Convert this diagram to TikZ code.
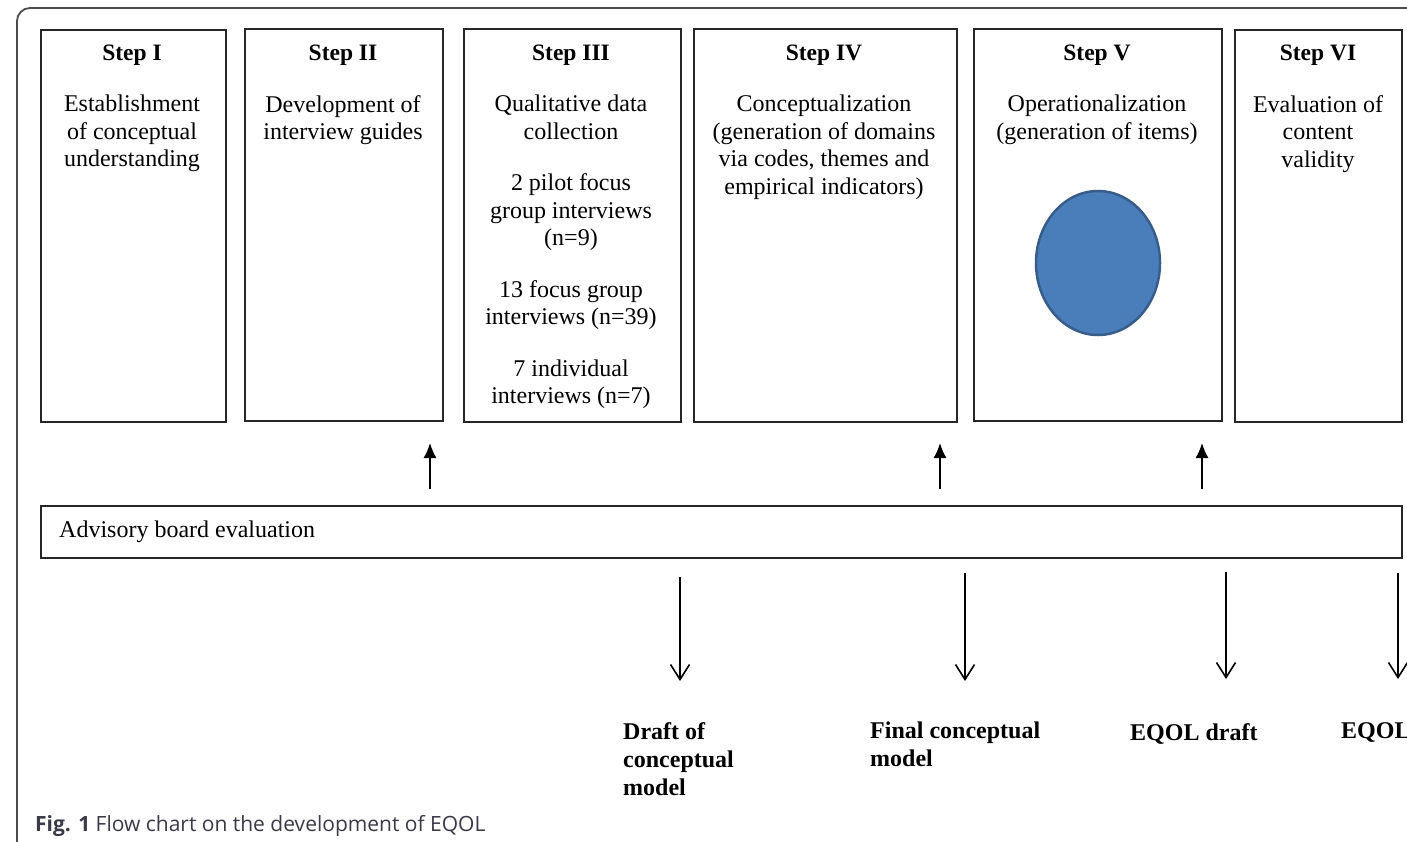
\documentclass[tikz,border=0pt]{standalone}
\usepackage{fontspec}
\setmainfont{Liberation Serif}
\newfontfamily\capfont{Open Sans}
\usetikzlibrary{arrows.meta,shapes.geometric}
\definecolor{blobfill}{HTML}{4A7EBB}
\definecolor{blobline}{HTML}{385D8A}
\definecolor{captxt}{HTML}{3A3A48}
\begin{document}
\begin{tikzpicture}[x=1pt,y=-1pt,
  stepbox/.style={draw=black!85, line width=1.6pt, inner sep=0pt, anchor=north west},
  ttl/.style={font=\fontsize{23.5}{27.5}\selectfont\bfseries, anchor=north, inner sep=0pt},
  body/.style={font=\fontsize{24}{27.5}\selectfont, anchor=north, align=center, inner sep=0pt},
  outl/.style={font=\fontsize{24}{28}\selectfont\bfseries, anchor=north west, align=left, inner sep=0pt},
  uparr/.style={-{Latex[length=15pt,width=13pt]}, line width=1.6pt},
  dnarr/.style={-{Straight Barb[length=15pt,width=19pt]}, line width=1.6pt}]
\useasboundingbox (0,0) rectangle (1407,841);
\fill[white] (0,0) rectangle (1407,841);
\begin{scope}
\clip (0,0) rectangle (1407,841);
\draw[line width=1.8pt, black!70, rounded corners=13pt] (17,900) -- (17,8) -- (1450,8);
\end{scope}

% step boxes
\node[stepbox, minimum width=185pt, minimum height=392pt] (s1) at (40,29) {};
\node[stepbox, minimum width=198pt, minimum height=392pt] (s2) at (244,28) {};
\node[stepbox, minimum width=217pt, minimum height=393pt] (s3) at (463,28) {};
\node[stepbox, minimum width=263pt, minimum height=393pt] (s4) at (693,28) {};
\node[stepbox, minimum width=248pt, minimum height=392pt] (s5) at (973,28) {};
\node[stepbox, minimum width=167pt, minimum height=392pt] (s6) at (1234,29) {};
\node[stepbox, minimum width=1361pt, minimum height=52pt] (adv) at (40,505) {};

% titles
\node[ttl] (t1) at (132,45) {Step I};
\node[ttl] (t2) at (343,45) {Step II};
\node[ttl] (t3) at (571,45) {Step III};
\node[ttl] (t4) at (824,45) {Step IV};
\node[ttl] (t5) at (1097,45) {Step V};
\node[ttl] (t6) at (1318,45) {Step VI};

% bodies
\node[body] (b1) at (132,95) {Establishment\\of conceptual\\understanding};
\node[body] (b2) at (343,95) {Development of\\interview guides};
\node[body] (b3) at (571,95) {Qualitative data\\collection\\[24pt]2 pilot focus\\group interviews\\(n=9)\\[24pt]13 focus group\\interviews (n=39)\\[24pt]7 individual\\interviews (n=7)};
\node[body] (b4) at (824,95) {Conceptualization\\(generation of domains\\via codes, themes and\\empirical indicators)};
\node[body] (b5) at (1097,95) {Operationalization\\(generation of items)};
\node[body] (b6) at (1318,95) {Evaluation of\\content\\validity};

\node[ellipse, draw=blobline, fill=blobfill, line width=2.5pt, minimum width=124pt, minimum height=144pt, inner sep=0pt] (blob) at (1098,263) {};

\node[font=\fontsize{24}{27.5}\selectfont, anchor=base west, inner sep=0pt] (advt) at (59,537) {Advisory board evaluation};

% up arrows
\coordinate (u1a) at (430,489); \coordinate (u1b) at (430,443);
\coordinate (u2a) at (940,489); \coordinate (u2b) at (940,443);
\coordinate (u3a) at (1202,489); \coordinate (u3b) at (1202,443);
\draw[uparr] (u1a) -- (u1b);
\draw[uparr] (u2a) -- (u2b);
\draw[uparr] (u3a) -- (u3b);

% down arrows
\coordinate (d1a) at (680,577); \coordinate (d1b) at (680,681);
\coordinate (d2a) at (965,573); \coordinate (d2b) at (965,681);
\coordinate (d3a) at (1226,572); \coordinate (d3b) at (1226,679);
\coordinate (d4a) at (1398,573); \coordinate (d4b) at (1398,679);
\draw[dnarr] (d1a) -- (d1b);
\draw[dnarr] (d2a) -- (d2b);
\draw[dnarr] (d3a) -- (d3b);
\draw[dnarr] (d4a) -- (d4b);

% outputs
\node[outl] (o1) at (623,722) {Draft of\\conceptual\\model};
\node[outl] (o2) at (870,722) {Final conceptual\\model};
\node[outl] (o3) at (1130,723) {EQOL draft};
\node[outl] (o4) at (1341,722) {EQOL};

% caption
\node[font=\capfont\fontsize{21}{24}\selectfont, text=captxt, anchor=base west, inner sep=0pt] (cap) at (35,831) {\textbf{Fig. 1} Flow chart on the development of EQOL};
\end{tikzpicture}
\end{document}
